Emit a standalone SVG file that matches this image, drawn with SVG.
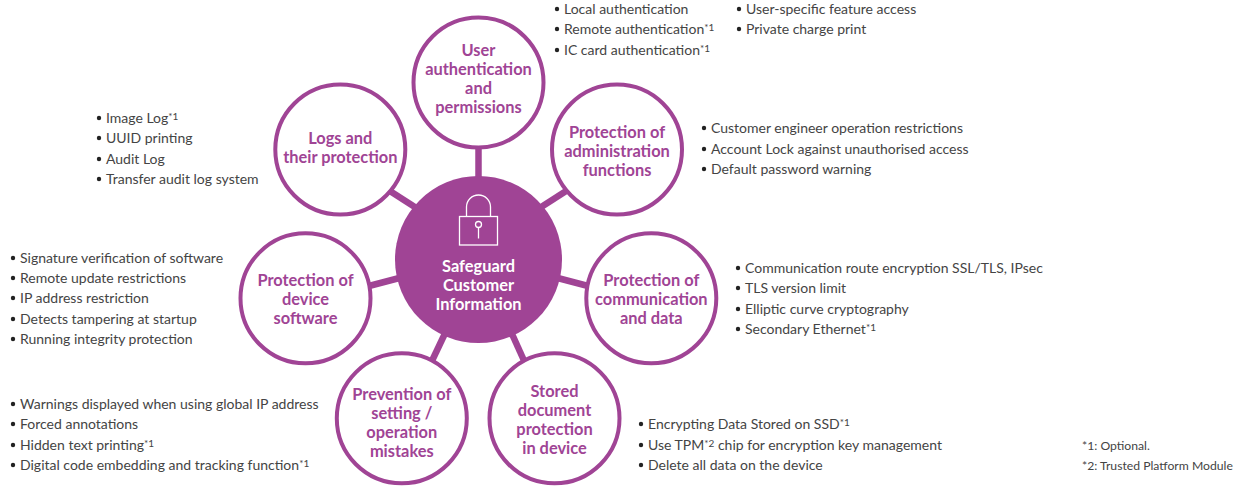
<svg xmlns="http://www.w3.org/2000/svg" width="1248" height="487" viewBox="0 0 1248 487">
<style>
text{font-family:"Lato","Open Sans",sans-serif}
.c{fill:#fff;stroke:#a04495;stroke-width:4}
.t{fill:#a04495;font-size:16.400px;font-weight:700;text-anchor:middle;transform:translateY(.7px)}
.w{fill:#fff;font-size:16.400px;font-weight:700;text-anchor:middle;transform:translateY(.7px)}
.l{fill:#444;font-size:14px}
.f{fill:#444;font-size:12.200px}
.b{fill:#222}
.s{font-size:10px}
.k{stroke:#a04495;stroke-width:6.500;fill:none}
</style>
<rect width="1248" height="487" fill="#fff"/>
<g id="connectors">
<line class="k" x1="478.500" y1="145" x2="478.500" y2="185"/>
<line class="k" x1="570" y1="188.500" x2="535" y2="211"/>
<line class="k" x1="386" y1="188.500" x2="421" y2="211"/>
<line class="k" x1="590" y1="286.500" x2="550" y2="276"/>
<line class="k" x1="367" y1="286.500" x2="407" y2="276"/>
<line class="k" x1="526" y1="365" x2="508" y2="325"/>
<line class="k" x1="430" y1="365" x2="449" y2="325"/>
</g>
<g id="center">
<circle cx="478.500" cy="259.500" r="83.500" fill="#a04495"/>
<g fill="none" stroke="#fff" stroke-width="1.300">
<rect x="459.500" y="216.500" width="38" height="28.500"/>
<path d="M466.500 216.500V207a12 12 0 0 1 24 0V216.500"/>
<circle cx="478.500" cy="224.500" r="3"/>
<line x1="478.500" y1="227.500" x2="478.500" y2="238.500"/>
</g>
<text class="w" x="478.500" y="271">Safeguard</text>
<text class="w" x="478.500" y="290">Customer</text>
<text class="w" x="478.500" y="309">Information</text>
</g>
<g id="node-user">
<circle class="c" cx="478.500" cy="82.500" r="65"/>
<text class="t" x="478.500" y="55">User</text>
<text class="t" x="478.500" y="74">authentication</text>
<text class="t" x="478.500" y="93">and</text>
<text class="t" x="478.500" y="112">permissions</text>
<g class="b"><circle cx="557" cy="9" r="2.200"/><circle cx="557" cy="29" r="2.200"/><circle cx="557" cy="50" r="2.200"/><circle cx="739" cy="9" r="2.200"/><circle cx="739" cy="29" r="2.200"/></g>
<text class="l" x="564" y="14">Local authentication</text>
<text class="l" x="564" y="34">Remote authentication<tspan class="s" dy="-3">*1</tspan></text>
<text class="l" x="564" y="55">IC card authentication<tspan class="s" dy="-3">*1</tspan></text>
<text class="l" x="746" y="14">User-specific feature access</text>
<text class="l" x="746" y="34">Private charge print</text>
</g>
<g id="node-admin">
<circle class="c" cx="617" cy="149.500" r="65"/>
<text class="t" x="617" y="137">Protection of</text>
<text class="t" x="617" y="156">administration</text>
<text class="t" x="617" y="175">functions</text>
<g class="b"><circle cx="704" cy="128" r="2.200"/><circle cx="704" cy="149" r="2.200"/><circle cx="704" cy="169" r="2.200"/></g>
<text class="l" x="711" y="133">Customer engineer operation restrictions</text>
<text class="l" x="711" y="154">Account Lock against unauthorised access</text>
<text class="l" x="711" y="174">Default password warning</text>
</g>
<g id="node-communication">
<circle class="c" cx="651.300" cy="298.300" r="65"/>
<text class="t" x="651.300" y="285">Protection of</text>
<text class="t" x="651.300" y="304">communication</text>
<text class="t" x="651.300" y="323">and data</text>
<g class="b"><circle cx="738" cy="268" r="2.200"/><circle cx="738" cy="288" r="2.200"/><circle cx="738" cy="309" r="2.200"/><circle cx="738" cy="329" r="2.200"/></g>
<text class="l" x="745" y="273">Communication route encryption SSL/TLS, IPsec</text>
<text class="l" x="745" y="293">TLS version limit</text>
<text class="l" x="745" y="314">Elliptic curve cryptography</text>
<text class="l" x="745" y="334">Secondary Ethernet<tspan class="s" dy="-3">*1</tspan></text>
</g>
<g id="node-stored">
<circle class="c" cx="554.500" cy="418.300" r="65"/>
<text class="t" x="554.500" y="396">Stored</text>
<text class="t" x="554.500" y="415">document</text>
<text class="t" x="554.500" y="434">protection</text>
<text class="t" x="554.500" y="453">in device</text>
<g class="b"><circle cx="641" cy="424" r="2.200"/><circle cx="641" cy="445" r="2.200"/><circle cx="641" cy="465" r="2.200"/></g>
<text class="l" x="648" y="429">Encrypting Data Stored on SSD<tspan class="s" dy="-3">*1</tspan></text>
<text class="l" x="648" y="450">Use TPM<tspan class="s" dy="-3">*2</tspan><tspan dy="3"> chip for encryption key management</tspan></text>
<text class="l" x="648" y="470">Delete all data on the device</text>
</g>
<g id="node-prevention">
<circle class="c" cx="401.800" cy="418.300" r="65"/>
<text class="t" x="401.800" y="399">Prevention of</text>
<text class="t" x="401.800" y="418">setting /</text>
<text class="t" x="401.800" y="437">operation</text>
<text class="t" x="401.800" y="456">mistakes</text>
<g class="b"><circle cx="13" cy="404" r="2.200"/><circle cx="13" cy="424" r="2.200"/><circle cx="13" cy="445" r="2.200"/><circle cx="13" cy="465" r="2.200"/></g>
<text class="l" x="20" y="409">Warnings displayed when using global IP address</text>
<text class="l" x="20" y="429">Forced annotations</text>
<text class="l" x="20" y="450">Hidden text printing<tspan class="s" dy="-3">*1</tspan></text>
<text class="l" x="20" y="470">Digital code embedding and tracking function<tspan class="s" dy="-3">*1</tspan></text>
</g>
<g id="node-device">
<circle class="c" cx="305.500" cy="298.300" r="65"/>
<text class="t" x="305.500" y="285">Protection of</text>
<text class="t" x="305.500" y="304">device</text>
<text class="t" x="305.500" y="323">software</text>
<g class="b"><circle cx="13" cy="258" r="2.200"/><circle cx="13" cy="278" r="2.200"/><circle cx="13" cy="298" r="2.200"/><circle cx="13" cy="319" r="2.200"/><circle cx="13" cy="339" r="2.200"/></g>
<text class="l" x="20" y="263">Signature verification of software</text>
<text class="l" x="20" y="283">Remote update restrictions</text>
<text class="l" x="20" y="303">IP address restriction</text>
<text class="l" x="20" y="324">Detects tampering at startup</text>
<text class="l" x="20" y="344">Running integrity protection</text>
</g>
<g id="node-logs">
<circle class="c" cx="340.300" cy="149.500" r="65"/>
<text class="t" x="340.300" y="143">Logs and</text>
<text class="t" x="340.300" y="162">their protection</text>
<g class="b"><circle cx="99" cy="118" r="2.200"/><circle cx="99" cy="138" r="2.200"/><circle cx="99" cy="159" r="2.200"/><circle cx="99" cy="179" r="2.200"/></g>
<text class="l" x="106" y="123">Image Log<tspan class="s" dy="-3">*1</tspan></text>
<text class="l" x="106" y="143">UUID printing</text>
<text class="l" x="106" y="164">Audit Log</text>
<text class="l" x="106" y="184">Transfer audit log system</text>
</g>
<g id="footnotes">
<text class="f" x="1082" y="450">*1: Optional.</text>
<text class="f" x="1082" y="470">*2: Trusted Platform Module</text>
</g>
</svg>
